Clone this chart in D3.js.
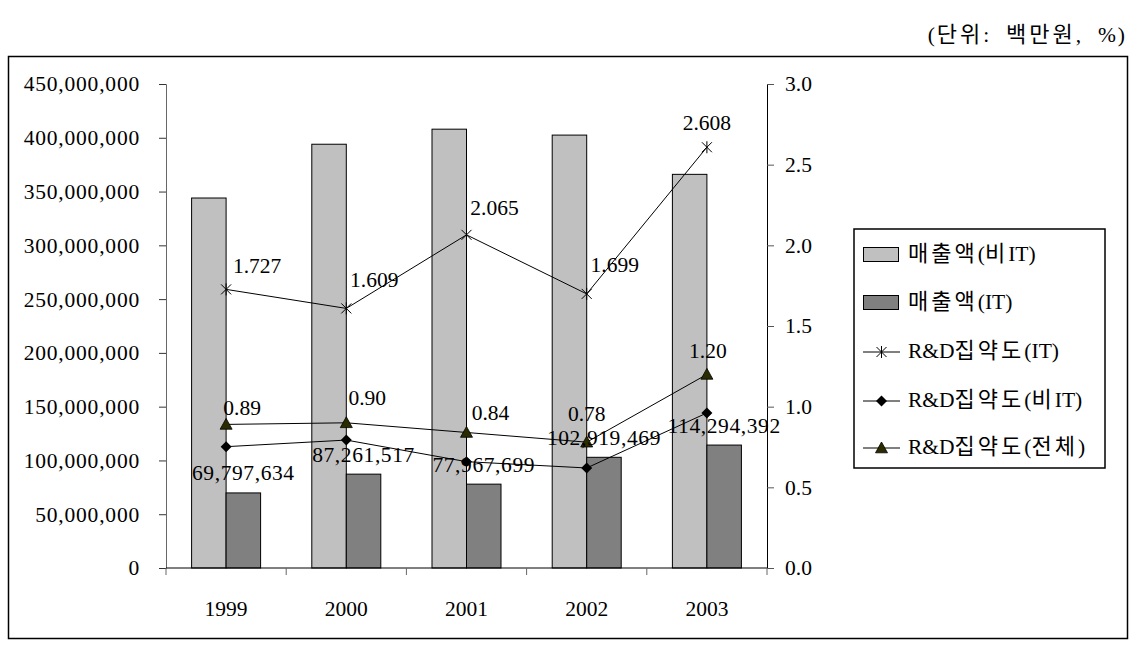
<!DOCTYPE html>
<html lang="en"><head><meta charset="utf-8">
<script src="https://cdn.jsdelivr.net/npm/d3@7"></script>
<style>
html,body{margin:0;padding:0;background:#fff;}
</style></head>
<body>
<svg id="c" width="1144" height="650"></svg>
<script>
// ---- data ----
const years = ["1999","2000","2001","2002","2003"];
const salesNonIT = [344000000, 394000000, 408000000, 402500000, 366000000];
const salesIT = [69797634, 87261517, 77967699, 102919469, 114294392];
const rdIT = [1.727, 1.609, 2.065, 1.699, 2.608];
const rdNonIT = [0.752, 0.793, 0.659, 0.620, 0.961];
const rdTotal = [0.89, 0.90, 0.84, 0.78, 1.20];
const leftTicks = [0,50000000,100000000,150000000,200000000,250000000,300000000,350000000,400000000,450000000];
const rightTicks = [0,0.5,1.0,1.5,2.0,2.5,3.0];
const legendLabels = ["매출액(비IT)","매출액(IT)","R&D집약도(IT)","R&D집약도(비IT)","R&D집약도(전체)"];
const unitText = "(단위:\u00a0\u00a0백만원,\u00a0\u00a0%)";

// ---- layout (label nudges, px) ----
const itLabelOffset = [[31,-24],[28,-29],[28,-27],[28,-29],[0,-25]];
const totLabelOffset = [[16,-17],[21,-25],[24,-20],[0,-29],[1,-24]];

const SERIF = "'Liberation Serif'";
const KR = "'Noto Sans CJK KR'";
const svg = d3.select("#c");
const FS = 21.5;
const L = 166, R = 767, T = 84, B = 568;

// writes text with Hangul runs in the CJK font and everything else in the serif font
function richText(sel, str, hangulSpacing, hangulSize, latinSpacing){
  const runs = [];
  for (const ch of str){
    const k = /[\u3131-\uD7A3]/.test(ch) ? "k" : "l";
    if (runs.length && runs[runs.length-1].k === k) runs[runs.length-1].t += ch;
    else runs.push({k, t: ch});
  }
  runs.forEach(r => {
    sel.append("tspan").style("font-family", r.k==="k" ? KR : SERIF)
      .style("letter-spacing", (r.k==="k" ? hangulSpacing : (latinSpacing||0))+"px")
      .style("font-size", (r.k==="k" ? hangulSize : FS) + "px")
      .text(r.t);
  });
  return sel;
}

// outer frame
svg.append("rect").attr("x",8.5).attr("y",56.5).attr("width",1119).attr("height",582)
  .attr("fill","none").attr("stroke","#000").attr("stroke-width",1.5);

richText(svg.append("text").attr("x",1127).attr("y",42).attr("text-anchor","end"), unitText, 3, 22, 2);

const x = d3.scaleBand().domain(years).range([L,R]).paddingInner(0).paddingOuter(0);
const yL = d3.scaleLinear().domain([0,450000000]).range([B,T]);
const yR = d3.scaleLinear().domain([0,3]).range([B,T]);
const bw = 34.5;
const cx = d => x(d) + x.bandwidth()/2;

// bars
const g = svg.append("g");
g.selectAll("rect.a").data(years).join("rect")
  .attr("x", d => cx(d) - bw).attr("width", bw)
  .attr("y", (d,i) => yL(salesNonIT[i])).attr("height", (d,i) => B - yL(salesNonIT[i]))
  .attr("fill","#c0c0c0").attr("stroke","#000").attr("stroke-width",1);
g.selectAll("rect.b").data(years).join("rect")
  .attr("x", d => cx(d)).attr("width", bw)
  .attr("y", (d,i) => yL(salesIT[i])).attr("height", (d,i) => B - yL(salesIT[i]))
  .attr("fill","#808080").attr("stroke","#000").attr("stroke-width",1);

// axes
const axL = svg.append("g").attr("transform",`translate(${L},0)`)
  .call(d3.axisLeft(yL).tickValues(leftTicks).tickFormat(d3.format(",")).tickSize(7).tickPadding(19));
axL.attr("font-family",null).attr("font-size",null);
axL.select(".domain").attr("stroke","#666");
axL.selectAll(".tick line").attr("stroke","#333");
axL.selectAll("text").style("font-family",SERIF).style("font-size",FS+"px").style("letter-spacing","0.8px").attr("fill","#000");

const axR = svg.append("g").attr("transform",`translate(${R},0)`)
  .call(d3.axisRight(yR).tickValues(rightTicks).tickFormat(d3.format(".1f")).tickSize(7).tickPadding(11));
axR.attr("font-family",null).attr("font-size",null);
axR.select(".domain").attr("stroke","#000");
axR.selectAll(".tick line").attr("stroke","#555");
axR.selectAll("text").style("font-family",SERIF).style("font-size",FS+"px").attr("fill","#000");

const axB = svg.append("g").attr("transform",`translate(0,${B})`);
axB.append("line").attr("x1",L).attr("x2",R).attr("stroke","#000");
axB.selectAll("line.t").data(years.concat(["end"])).join("line")
  .attr("x1",(d,i)=> i<years.length ? x(d) : R).attr("x2",(d,i)=> i<years.length ? x(d) : R)
  .attr("y1",0).attr("y2",7).attr("stroke","#666");
axB.selectAll("text").data(years).join("text")
  .attr("x", d => cx(d)).attr("y",48).attr("text-anchor","middle")
  .style("font-family",SERIF).style("font-size",FS+"px").text(d=>d);

// lines
const line = d3.line().x((v,i)=>cx(years[i])).y(v=>yR(v));
[rdIT, rdNonIT, rdTotal].forEach(s => {
  svg.append("path").attr("d", line(s)).attr("fill","none").attr("stroke","#000").attr("stroke-width",1);
});

// markers
function asterisk(sel, px, py, s){
  sel.append("path").attr("d",`M${px-s},${py-s}L${px+s},${py+s}M${px-s},${py+s}L${px+s},${py-s}M${px},${py-s-1}L${px},${py+s+1}`)
    .attr("stroke","#000").attr("stroke-width",1).attr("fill","none");
}
function diamond(sel, px, py, s){
  sel.append("path").attr("d",`M${px},${py-s}L${px+s},${py}L${px},${py+s}L${px-s},${py}Z`).attr("fill","#000");
}
function triangle(sel, px, py, s){
  sel.append("path").attr("d",`M${px},${py-s}L${px+s},${py+s*0.8}L${px-s},${py+s*0.8}Z`)
    .attr("fill","#2b2b00").attr("stroke","#000").attr("stroke-width",0.8);
}
const mk = svg.append("g");
rdIT.forEach((v,i)=>asterisk(mk, cx(years[i]), yR(v), 5));
rdNonIT.forEach((v,i)=>diamond(mk, cx(years[i]), yR(v), 5.5));
rdTotal.forEach((v,i)=>triangle(mk, cx(years[i]), yR(v), 6));

// labels
const lb = svg.append("g");
function label(px, py, str, ls){
  lb.append("text").attr("x",px).attr("y",py).attr("dy","0.35em").attr("text-anchor","middle")
    .style("font-family",SERIF).style("font-size",FS+"px").style("letter-spacing",(ls||0)+"px").text(str);
}
rdIT.forEach((v,i)=> label(cx(years[i])+itLabelOffset[i][0], yR(v)+itLabelOffset[i][1], d3.format(".3f")(v)));
rdTotal.forEach((v,i)=> label(cx(years[i])+totLabelOffset[i][0], yR(v)+totLabelOffset[i][1], d3.format(".2f")(v)));
salesIT.forEach((v,i)=> label(cx(years[i])+bw/2, yL(v)-20, d3.format(",")(v), 0.6));

// legend
const lg = svg.append("g");
lg.append("rect").attr("x",854).attr("y",229).attr("width",251).attr("height",239)
  .attr("fill","#fff").attr("stroke","#000").attr("stroke-width",1.5);
const ly = [255,303,352,401,448];
legendLabels.forEach((t,i)=>{
  const yy = ly[i];
  if(i===0||i===1){
    lg.append("rect").attr("x",863.5).attr("y",yy-7.5).attr("width",35).attr("height",14)
      .attr("fill", i===0?"#c0c0c0":"#808080").attr("stroke","#000").attr("stroke-width",1);
  } else {
    lg.append("line").attr("x1",863).attr("x2",900).attr("y1",yy).attr("y2",yy).attr("stroke","#000").attr("stroke-width",1);
    if(i===2) asterisk(lg,881.5,yy,5);
    if(i===3) diamond(lg,881.5,yy,5.5);
    if(i===4) triangle(lg,881.5,yy,6);
  }
  richText(lg.append("text").attr("x",908).attr("y",yy).attr("dy","0.35em"), t, 3, 22);
});
</script>
</body></html>
